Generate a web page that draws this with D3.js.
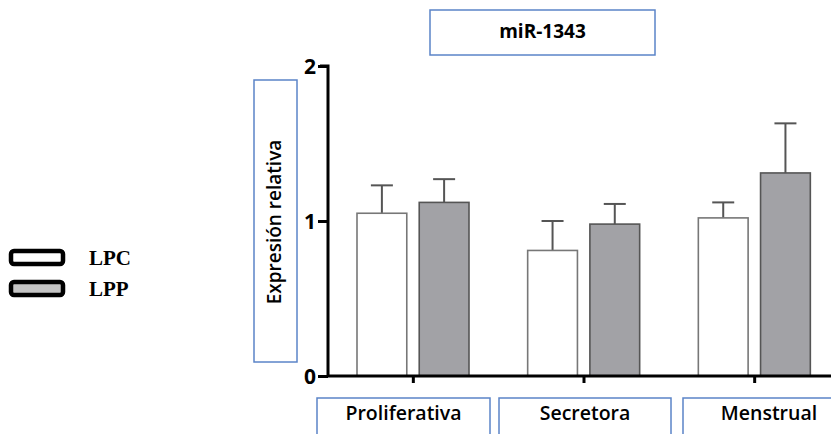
<!DOCTYPE html>
<html>
<head>
<meta charset="utf-8">
<script src="https://cdn.jsdelivr.net/npm/d3@7"></script>
<style>
  body { margin: 0; background: #fff; }
  svg { display: block; }
</style>
</head>
<body>
<svg id="chart"></svg>
<script>
const categories = ["Proliferativa", "Secretora", "Menstrual"];
const series = ["LPC", "LPP"];
const lpcValues = [1.05, 0.81, 1.02];
const lppValues = [1.12, 0.98, 1.31];
const lpcErrors = [0.18, 0.19, 0.10];
const lppErrors = [0.15, 0.13, 0.32];
const yTicks = [0, 1, 2];

const width = 831, height = 434;
const svg = d3.select("#chart").attr("width", width).attr("height", height);

const fills = { LPC: "#ffffff", LPP: "#a2a2a6" };
const strokes = { LPC: "#777", LPP: "#555" };

const y = d3.scaleLinear().domain([0, 2]).range([376, 66]);
const x0 = d3.scaleBand().domain(categories).range([328, 840]).padding(0);
const x1 = d3.scaleBand().domain(series).range([29, 141]).paddingInner(0.2).paddingOuter(0);

const rows = categories.map((c, i) => ({
  cat: c,
  bars: [
    { s: "LPC", v: lpcValues[i], e: lpcErrors[i] },
    { s: "LPP", v: lppValues[i], e: lppErrors[i] }
  ]
}));

// bars + error bars
const grp = svg.selectAll(".grp").data(rows).enter().append("g")
  .attr("transform", d => `translate(${x0(d.cat)},0)`);

const bar = grp.selectAll(".bar").data(d => d.bars).enter().append("g");

bar.append("line")
  .attr("x1", d => x1(d.s) + x1.bandwidth() / 2)
  .attr("x2", d => x1(d.s) + x1.bandwidth() / 2)
  .attr("y1", d => y(d.v))
  .attr("y2", d => y(d.v + d.e))
  .attr("stroke", "#555").attr("stroke-width", 2);

bar.append("line")
  .attr("x1", d => x1(d.s) + x1.bandwidth() / 2 - 11)
  .attr("x2", d => x1(d.s) + x1.bandwidth() / 2 + 11)
  .attr("y1", d => y(d.v + d.e))
  .attr("y2", d => y(d.v + d.e))
  .attr("stroke", "#555").attr("stroke-width", 2);

bar.append("rect")
  .attr("x", d => x1(d.s))
  .attr("width", x1.bandwidth())
  .attr("y", d => y(d.v))
  .attr("height", d => y(0) - y(d.v))
  .attr("fill", d => fills[d.s])
  .attr("stroke", d => strokes[d.s])
  .attr("stroke-width", 1.6);

// y axis
const yAxis = svg.append("g")
  .attr("transform", "translate(328,0)")
  .call(d3.axisLeft(y).tickValues(yTicks).tickSize(10).tickFormat(d3.format("d")));
yAxis.select(".domain").attr("stroke", "#000").attr("stroke-width", 3)
  .attr("d", `M-8,${y(2)}H0V${y(0)}`);
yAxis.selectAll(".tick line").attr("stroke", "#000").attr("stroke-width", 3);
yAxis.selectAll(".tick text")
  .attr("font-family", "Open Sans, sans-serif").attr("font-weight", "700")
  .attr("font-size", 21).attr("fill", "#000").attr("x", -12).attr("dy", "0.36em");

// x axis
const xAxis = svg.append("g")
  .attr("transform", `translate(0,${y(0)})`)
  .call(d3.axisBottom(x0).tickSize(7).tickFormat(""));
xAxis.select(".domain").attr("stroke", "#000").attr("stroke-width", 3)
  .attr("d", `M328,0H831`);
xAxis.selectAll(".tick line").attr("stroke", "#000").attr("stroke-width", 3);

// boxed labels
const boxFont = "Open Sans, sans-serif";
function box(x, yy, w, h) {
  svg.append("rect").attr("x", x).attr("y", yy).attr("width", w).attr("height", h)
    .attr("fill", "none").attr("stroke", "#5b84c8").attr("stroke-width", 1.5);
}

box(430, 10, 225, 45);
svg.append("text").attr("x", 542.5).attr("y", 31).attr("dy", "0.35em")
  .attr("text-anchor", "middle").attr("font-family", boxFont)
  .attr("font-weight", 700).attr("font-size", 19).text("miR-1343");

box(254, 80, 43, 282);
svg.append("text").attr("transform", "translate(274,222) rotate(-90)")
  .attr("dy", "0.35em").attr("text-anchor", "middle").attr("font-family", boxFont)
  .attr("font-weight", 600).attr("font-size", 19).text("Expresión relativa");

const catBoxes = [[317, 173], [499, 172], [683, 172]];
categories.forEach((c, i) => {
  box(catBoxes[i][0], 398, catBoxes[i][1], 45);
  svg.append("text").attr("x", catBoxes[i][0] + catBoxes[i][1] / 2).attr("y", 413)
    .attr("dy", "0.35em").attr("text-anchor", "middle").attr("font-family", boxFont)
    .attr("font-weight", 600).attr("font-size", 19.5).text(c);
});

// legend
const legend = svg.append("g");
series.forEach((s, i) => {
  const ly = 251 + i * 31;
  legend.append("rect").attr("x", 11).attr("y", ly).attr("width", 52).attr("height", 13)
    .attr("rx", 3).attr("fill", s === "LPC" ? "#fff" : "#c4c4c4")
    .attr("stroke", "#000").attr("stroke-width", 4.5);
  legend.append("text").attr("x", 89).attr("y", ly + 7).attr("dy", "0.35em")
    .attr("font-family", "Liberation Serif, serif").attr("font-weight", 700)
    .attr("font-size", 21).text(s);
});
</script>
</body>
</html>
